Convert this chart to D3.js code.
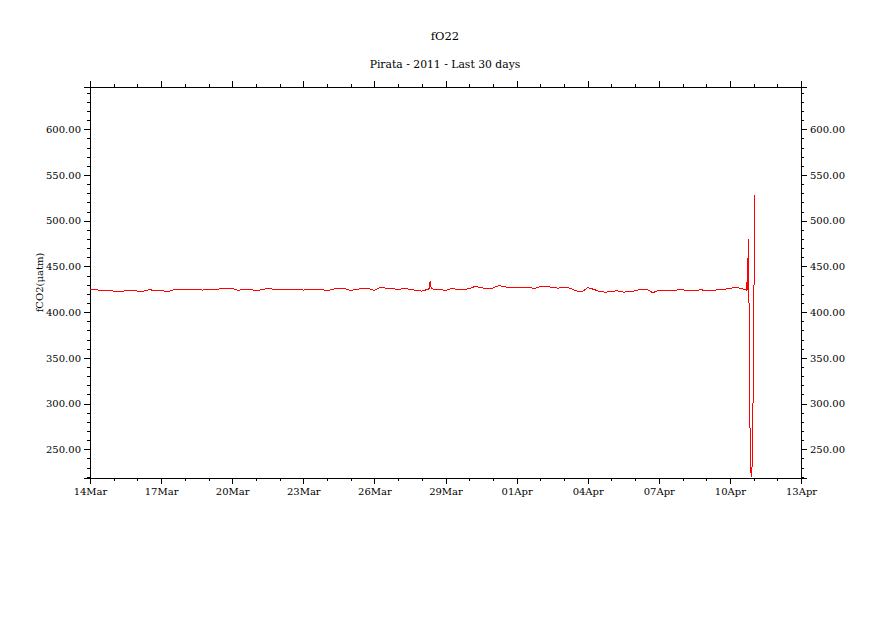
<!DOCTYPE html>
<html>
<head>
<meta charset="utf-8">
<script src="https://cdn.jsdelivr.net/npm/d3@7"></script>
<style>
  html, body { margin: 0; padding: 0; background: #ffffff; }
  svg { display: block; }
  text { font-family: "DejaVu Serif", "Liberation Serif", serif; fill: #000; }
</style>
</head>
<body>
<svg id="chart" width="891" height="630"></svg>
<script>
// ---------------- DATA ----------------
const titleText = "fO22";
const subtitleText = "Pirata - 2011 - Last 30 days";
const yAxisTitle = "fCO2(\u03bcatm)";

const startDate = "2011-03-14";
const endDate = "2011-04-13";
const baseStepHours = 6;            // spacing of the baseline readings
// fCO2 readings every 6 hours from 14Mar 00:00
const baseValues = [
  424.5,424.5,423.8,423.8,423.0,422.5,423.4,424.0,423.0,423.0,424.5,423.8,423.8,422.3,
  424.2,425.2,425.2,425.0,424.5,424.2,425.2,424.5,425.6,426.0,426.0,423.8,425.0,425.0,
  423.4,424.5,426.0,425.0,425.0,424.5,425.2,425.2,424.2,424.5,425.0,425.0,423.4,425.2,
  426.0,425.6,423.8,425.0,426.0,426.0,423.8,427.1,426.3,426.3,424.5,426.0,425.0,423.8,
  423.0,425.0,425.0,425.0,423.8,426.0,425.0,425.0,425.6,428.2,426.7,426.0,426.3,429.2,
  427.8,426.7,426.7,427.4,427.4,425.6,428.2,428.5,427.1,426.3,427.4,426.3,423.4,422.3,
  426.7,425.0,422.6,421.9,422.6,423.4,421.9,422.3,423.4,425.2,425.0,421.2,424.2,423.8,
  423.8,424.2,424.5,423.4,423.4,424.5,423.8,423.8,424.5,425.0,426.0,427.1,426.0
];
// extra hourly readings (hours since 14Mar 00:00) around the spikes
const spikeHours  = [343.5, 344.5, 345.5, 665.0, 665.3, 665.8, 666.2, 666.8, 667.3, 668.0, 668.8, 669.6, 670.4, 671.0, 671.9, 672.6, 673.4];
const spikeValues = [425.6, 434.0, 425.8, 424.0, 431.0, 459.0, 424.0, 480.0, 419.0, 305.0, 235.0, 220.0, 231.0, 266.0, 342.0, 459.0, 528.0];

const yDomain = [218.6, 646.3];
const yMajorTicks = [250, 300, 350, 400, 450, 500, 550, 600];
const yMinorStep = 10;
const xMajorStepDays = 3;

// ---------------- LAYOUT ----------------
const plot = { left: 90, right: 801, top: 87, bottom: 478 };
const svg = d3.select("#chart");

const t0 = d3.utcParse("%Y-%m-%d")(startDate);
const t1 = d3.utcParse("%Y-%m-%d")(endDate);

const x = d3.scaleUtc().domain([t0, t1]).range([plot.left, plot.right]);
const y = d3.scaleLinear().domain(yDomain).range([plot.bottom, plot.top]);

// combine data
let data = baseValues.map((v, i) => ({ t: d3.utcHour.offset(t0, i * baseStepHours), v }));
spikeHours.forEach((h, i) => {
  data.push({ t: new Date(t0.getTime() + h * 3600 * 1000), v: spikeValues[i] });
});
data.sort((a, b) => a.t - b.t);

// ---------------- TITLES ----------------
svg.append("text").attr("x", 445).attr("y", 40).attr("text-anchor", "middle")
  .style("font-size", "11.5px").text(titleText);
svg.append("text").attr("x", 445).attr("y", 68).attr("text-anchor", "middle")
  .style("font-size", "10.8px").text(subtitleText);

// ---------------- AXES ----------------
const fmtDay = d3.utcFormat("%d%b");
const xMajor = d3.range(0, 31, xMajorStepDays).map(d => d3.utcDay.offset(t0, d));
const xMinor = d3.range(0, 31, 1).map(d => d3.utcDay.offset(t0, d));
const yMinor = d3.range(220, 641, yMinorStep);

// bottom axis
const bottomMinor = d3.axisBottom(x).tickValues(xMinor).tickSize(3).tickFormat("");
const bottomMajor = d3.axisBottom(x).tickValues(xMajor).tickSize(6).tickPadding(4).tickFormat(fmtDay);
svg.append("g").attr("transform", `translate(0,${plot.bottom})`).call(bottomMinor);
svg.append("g").attr("class", "xlab").attr("transform", `translate(0,${plot.bottom})`).call(bottomMajor);

// top axis (ticks only)
const topMinor = d3.axisTop(x).tickValues(xMinor).tickSize(3).tickFormat("");
const topMajor = d3.axisTop(x).tickValues(xMajor).tickSize(6).tickFormat("");
svg.append("g").attr("transform", `translate(0,${plot.top})`).call(topMinor);
svg.append("g").attr("transform", `translate(0,${plot.top})`).call(topMajor);

// left axis
const fmtY = d3.format(".2f");
svg.append("g").attr("transform", `translate(${plot.left},0)`)
  .call(d3.axisLeft(y).tickValues(yMinor).tickSize(3).tickFormat(""));
svg.append("g").attr("class", "ylab").attr("transform", `translate(${plot.left},0)`)
  .call(d3.axisLeft(y).tickValues(yMajorTicks).tickSize(6).tickPadding(3).tickFormat(fmtY));

// right axis
svg.append("g").attr("transform", `translate(${plot.right},0)`)
  .call(d3.axisRight(y).tickValues(yMinor).tickSize(3).tickFormat(""));
svg.append("g").attr("class", "ylab").attr("transform", `translate(${plot.right},0)`)
  .call(d3.axisRight(y).tickValues(yMajorTicks).tickSize(6).tickPadding(3).tickFormat(fmtY));

svg.selectAll(".domain").attr("stroke", "#000").attr("shape-rendering", "crispEdges");
svg.selectAll(".tick line").attr("stroke", "#000").attr("shape-rendering", "crispEdges");
svg.selectAll(".tick text").style("font-family", "'DejaVu Serif', 'Liberation Serif', serif")
  .style("font-size", "10px").attr("fill", "#000");

// y axis title
svg.append("text")
  .attr("transform", `translate(43,${(plot.top + plot.bottom) / 2}) rotate(-90)`)
  .attr("text-anchor", "middle")
  .style("font-size", "10px")
  .text(yAxisTitle);

// ---------------- LINE ----------------
const line = d3.line().x(d => x(d.t)).y(d => y(d.v));
svg.append("path").datum(data)
  .attr("d", line)
  .attr("fill", "none")
  .attr("stroke", "#ff0000")
  .attr("stroke-width", 1)
  .attr("shape-rendering", "crispEdges");
</script>
</body>
</html>
